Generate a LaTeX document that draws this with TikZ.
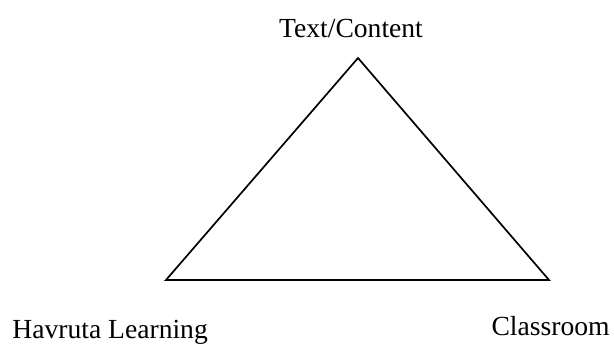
\documentclass[tikz,border=0pt]{standalone}
\usepackage{fontspec}
\setmainfont{Liberation Serif}
\usepackage{tikz}

\begin{document}
\begin{tikzpicture}[x=0.5pt, y=-0.5pt]
			\useasboundingbox (0,0) rectangle (614,343);
			
			\tikzset{lbl/.style={font=\fontsize{13.8}{16}\selectfont, inner sep=0pt}}
			
			\coordinate (top) at (358,58);
			\coordinate (left) at (166,280);
			\coordinate (right) at (549,280);
			
			\draw [line width=0.85pt, line join=miter] (top) -- (left) -- (right) -- cycle;
			
			%corner labels
			\node [lbl, anchor=base] (text) at (351,37) {Text/Content};
			\node [lbl, anchor=base west] (havruta) at (12,338) {Havruta Learning};
			\node [lbl, anchor=base east] (classroom) at (610,335) {Classroom};
		\end{tikzpicture}
\end{document}
